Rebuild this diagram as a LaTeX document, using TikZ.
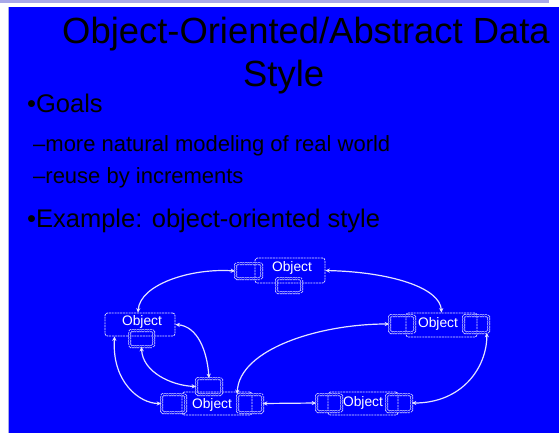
\documentclass[tikz,border=0pt]{standalone}
\usepackage{fontspec}
\setmainfont{Liberation Sans}
\usetikzlibrary{arrows.meta}
\definecolor{slideblue}{RGB}{0,0,255}
\definecolor{stripc}{RGB}{168,168,232}
\definecolor{linec}{RGB}{228,228,255}
\tikzset{
  objbox/.style={draw=linec, line width=0.8pt, dash pattern=on 2pt off 0.8pt, rounded corners=2.5pt, inner sep=0pt},
  portbox/.style={draw=linec, line width=0.7pt, double=slideblue, double distance=1.6pt, dash pattern=on 2pt off 0.6pt, rounded corners=1.5pt, inner sep=0pt, minimum width=24pt, minimum height=15pt},
  objtext/.style={text=white, font=\fontsize{13.8}{14}\selectfont, inner sep=0pt},
  conn/.style={draw=linec, line width=1.2pt, {Stealth[length=4.5pt,width=4.2pt]}-{Stealth[length=4.5pt,width=4.2pt]}},
  titletext/.style={anchor=base west, inner sep=0pt, font=\fontsize{36.4}{40}\selectfont},
  maintext/.style={anchor=base west, inner sep=0pt, font=\fontsize{25.5}{28}\selectfont},
  subtext/.style={anchor=base west, inner sep=0pt, font=\fontsize{22}{25}\selectfont}
}
\begin{document}
\begin{tikzpicture}[x=1pt,y=-1pt]
\useasboundingbox (0,0) rectangle (559,433);
\fill[white] (0,0) rectangle (559,433);
\fill[stripc] (0,0) rectangle (549,3);
\fill[slideblue] (8,7) rectangle (559,433);
\draw[stripc, line width=1pt] (8.5,7) -- (8.5,433);

% texts
\node[titletext] (t1) at (62,44) {Object-Oriented/Abstract Data};
\node[titletext] (t2) at (243,87) {Style};
\node[maintext] (g) at (27,113) {•Goals};
\node[subtext] (s1) at (33,151) {–more natural modeling of real world};
\node[subtext] (s2) at (33,183) {–reuse by increments};
\node[maintext] (ex) at (27,227) {•Example: object-oriented style};

% objects
\node[objbox, minimum width=70pt, minimum height=25pt] (TO) at (290,270.5) {};
\node[objtext] (TOt) at (292,268) {Object};
\node[portbox, minimum width=26pt, minimum height=15pt] (tl) at (248.5,271) {};
\node[portbox, minimum width=25pt, minimum height=14pt] (tb) at (289,285.5) {};

\node[objbox, minimum width=70pt, minimum height=23pt] (LO) at (140,324.5) {};
\node[objtext] (LOt) at (142,322) {Object};
\node[portbox, minimum width=24pt, minimum height=16pt] (lb) at (141.5,338.5) {};

\node[objbox, minimum width=70pt, minimum height=23pt] (BL) at (217,403.5) {};
\node[objtext] (BLt) at (212,405) {Object};
\node[portbox, minimum width=25pt, minimum height=16pt] (bt) at (209,386.5) {};
\node[portbox, minimum width=24pt, minimum height=18pt] (bll) at (173.5,403.5) {};
\node[portbox, minimum width=25pt, minimum height=18pt] (blr) at (250,403.5) {};

\node[objbox, minimum width=70pt, minimum height=23pt] (BR) at (363,403.5) {};
\node[objtext] (BRt) at (363,403) {Object};
\node[portbox, minimum width=25pt, minimum height=17pt] (brl) at (329,403) {};
\node[portbox, minimum width=25pt, minimum height=17pt] (brr) at (399,403) {};

\node[objbox, minimum width=71pt, minimum height=24pt] (RO) at (441.5,325) {};
\node[objtext] (ROt) at (438,324) {Object};
\node[portbox, minimum width=25pt, minimum height=17pt] (rl) at (402,324) {};
\node[portbox, minimum width=25pt, minimum height=17pt] (rr) at (476,324) {};

% connectors
\draw[conn] ([xshift=-2pt]LO.north) .. controls +(2,-28) and +(-45,-3) .. (tl.west);
\draw[conn] (TO.east) .. controls +(65,1.5) and +(-1.5,-25) .. (RO.north);
\draw[conn] (LO.east) .. controls +(22,2) and +(-2,-28) .. (bt.north);
\draw[conn] (lb.south) .. controls +(1,25) and +(-25,-1) .. (bt.west);
\draw[conn] ([xshift=10pt]LO.south west) .. controls +(-3,45) and +(-22,0) .. (bll.west);
\draw[conn] (blr.north west) .. controls +(2,-45) and +(-70,0) .. (rl.west);
\draw[conn] (blr.east) -- (brl.west);
\draw[conn] (brr.east) .. controls +(50,0) and +(0,35) .. ([xshift=-2pt]rr.south east);
\end{tikzpicture}
\end{document}
